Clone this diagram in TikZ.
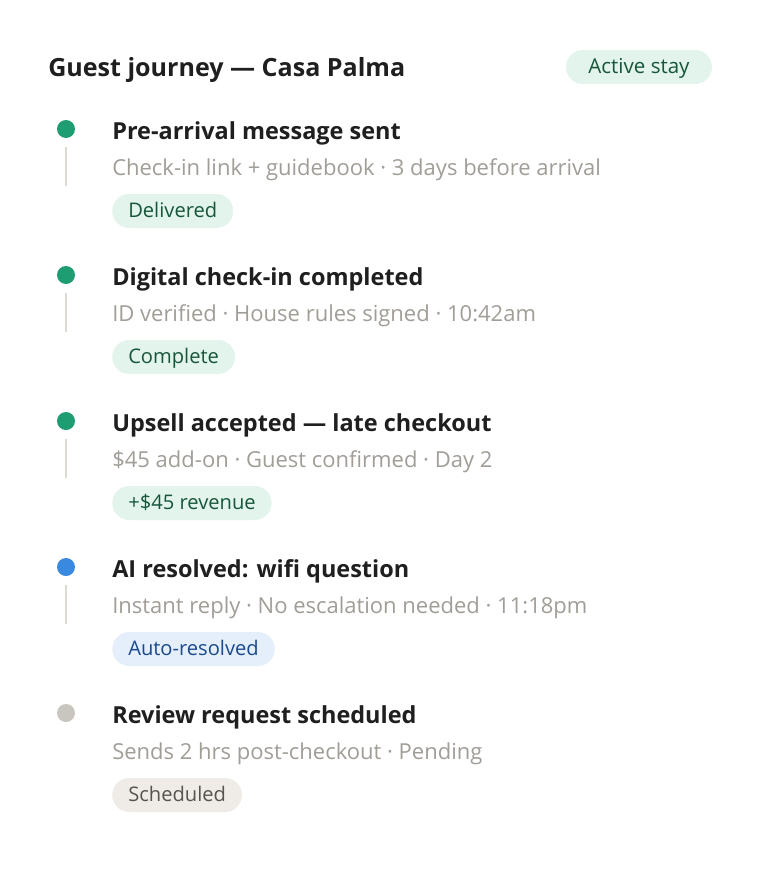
\documentclass[tikz,border=0pt]{standalone}
\usepackage{fontspec}
\setmainfont{Open Sans}
\definecolor{ink}{HTML}{1F1F1F}
\definecolor{sub}{HTML}{A19D97}
\definecolor{dotgreen}{HTML}{1E9C72}
\definecolor{dotblue}{HTML}{3A89E0}
\definecolor{dotgray}{HTML}{C9C5BF}
\definecolor{rail}{HTML}{DDD9D3}
\definecolor{gfill}{HTML}{E2F4EC}
\definecolor{gtext}{HTML}{17563B}
\definecolor{bfill}{HTML}{E5EFFB}
\definecolor{btext}{HTML}{1A4A8A}
\definecolor{nfill}{HTML}{EFECE8}
\definecolor{ntext}{HTML}{57534E}
\tikzset{
  heading/.style={anchor=base west,inner sep=0pt,text=ink,font=\fontsize{18.8}{22}\selectfont\bfseries},
  evtitle/.style={anchor=base west,inner sep=0pt,text=ink,font=\fontsize{17.6}{21}\selectfont\bfseries},
  evsub/.style={anchor=base west,inner sep=0pt,text=sub,font=\fontsize{16.5}{20}\selectfont},
  badge/.style={anchor=west,rounded corners=12.75pt,minimum height=25.5pt,inner xsep=12pt,inner ysep=0pt,text height=9.6pt,text depth=0pt,font=\fontsize{15.1}{18}\selectfont},
  gbadge/.style={badge,fill=gfill,text=gtext},
  bbadge/.style={badge,fill=bfill,text=btext},
  nbadge/.style={badge,fill=nfill,text=ntext},
  evdot/.style={circle,minimum size=13.5pt,inner sep=0pt},
  railline/.style={draw=rail,line width=1.5pt}
}
\begin{document}
\begin{tikzpicture}[x=0.75pt,y=-0.75pt]
\fill[white] (0,0) rectangle (760,892);
\useasboundingbox (0,0) rectangle (760,892);
\node[heading] (title) at (48,77) {Guest journey — Casa Palma};
\node[gbadge,anchor=center,minimum width=109.5pt,font=\fontsize{15.4}{18}\selectfont] (active) at (639,67) {Active stay};
% event 1
\node[evdot,fill=dotgreen] (d1) at (66,129) {};
\coordinate (r1a) at (66,147); \coordinate (r1b) at (66,186);
\draw[railline] (r1a) -- (r1b);
\node[evtitle] (t1) at (112,139) {Pre-arrival message sent};
\node[evsub] (s1) at (112,175) {Check-in link + guidebook · 3 days before arrival};
\node[gbadge] (b1) at (112,211) {Delivered};
% event 2
\node[evdot,fill=dotgreen] (d2) at (66,275) {};
\coordinate (r2a) at (66,293); \coordinate (r2b) at (66,332);
\draw[railline] (r2a) -- (r2b);
\node[evtitle] (t2) at (112,285) {Digital check-in completed};
\node[evsub] (s2) at (112,321) {ID verified · House rules signed · 10:42am};
\node[gbadge] (b2) at (112,357) {Complete};
% event 3
\node[evdot,fill=dotgreen] (d3) at (66,421) {};
\coordinate (r3a) at (66,439); \coordinate (r3b) at (66,478);
\draw[railline] (r3a) -- (r3b);
\node[evtitle] (t3) at (112,431) {Upsell accepted — late checkout};
\node[evsub] (s3) at (112,467) {\$45 add-on · Guest confirmed · Day 2};
\node[gbadge] (b3) at (112,503) {+\$45 revenue};
% event 4
\node[evdot,fill=dotblue] (d4) at (66,567) {};
\coordinate (r4a) at (66,585); \coordinate (r4b) at (66,624);
\draw[railline] (r4a) -- (r4b);
\node[evtitle] (t4) at (112,577) {AI resolved: wifi question};
\node[evsub] (s4) at (112,613) {Instant reply · No escalation needed · 11:18pm};
\node[bbadge] (b4) at (112,649) {Auto-resolved};
% event 5
\node[evdot,fill=dotgray] (d5) at (66,713) {};
\node[evtitle] (t5) at (112,723) {Review request scheduled};
\node[evsub] (s5) at (112,759) {Sends 2 hrs post-checkout · Pending};
\node[nbadge] (b5) at (112,795) {Scheduled};
\end{tikzpicture}
\end{document}
